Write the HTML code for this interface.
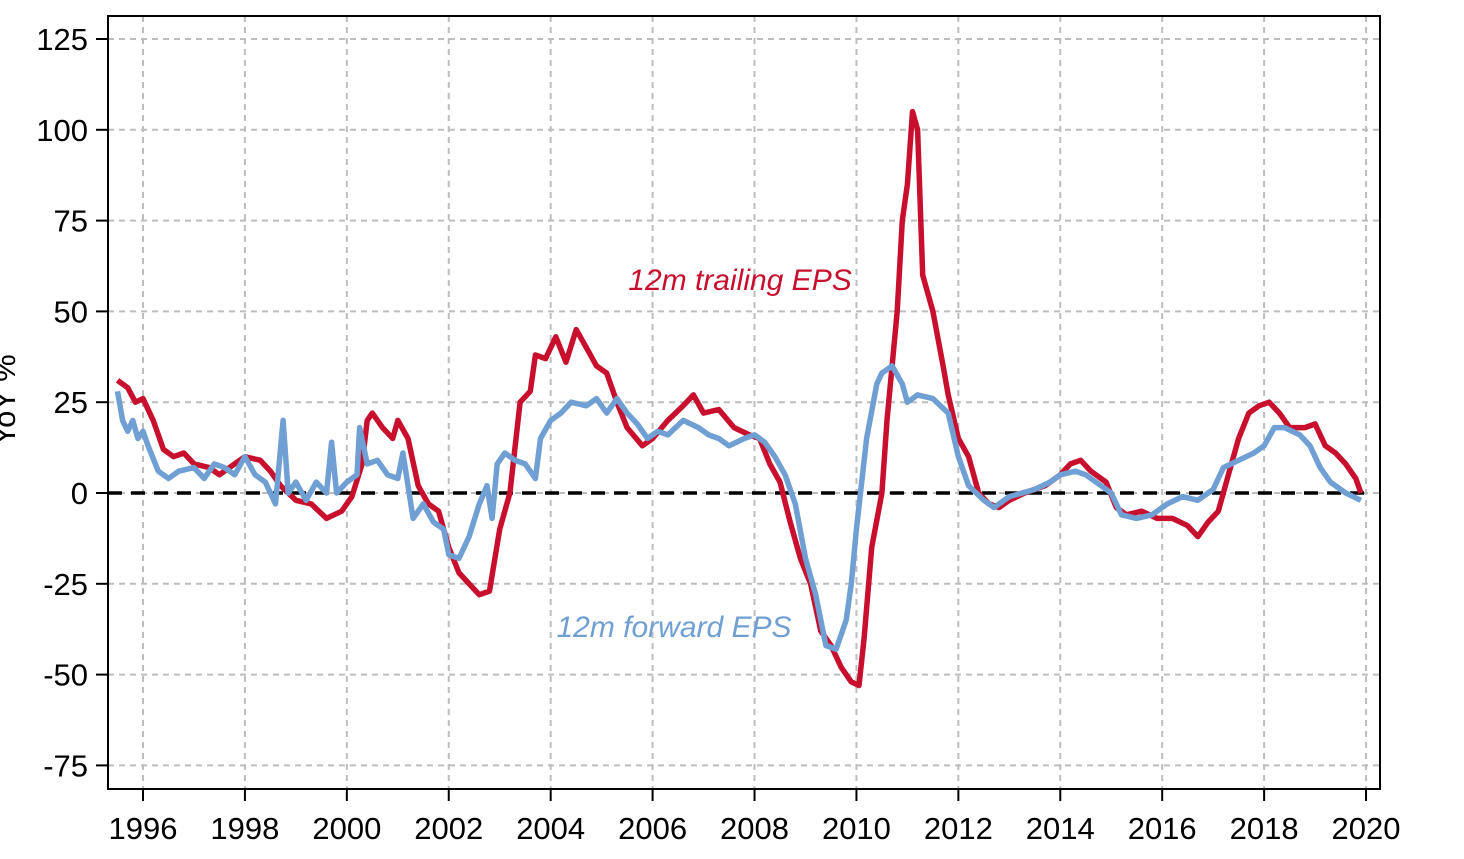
<!DOCTYPE html>
<html><head><meta charset="utf-8"><style>
html,body{margin:0;padding:0;background:#fff;}
svg{display:block;font-family:"Liberation Sans",sans-serif;}
</style></head><body>
<svg id="chart" width="1464" height="859" viewBox="0 0 1464 859" xmlns="http://www.w3.org/2000/svg">
<g id="grid"></g>
<g id="axes"></g>
<g id="series"></g>
<text transform="translate(15,400) rotate(-90)" text-anchor="middle" font-size="31" fill="#000">YoY %</text>
<text x="740" y="290" text-anchor="middle" font-size="30" font-style="italic" fill="#c8102e">12m trailing EPS</text>
<text x="674" y="637" text-anchor="middle" font-size="30" font-style="italic" fill="#6f9fd3">12m forward EPS</text>
</svg>
<script>
const yTicks=[125,100,75,50,25,0,-25,-50,-75];
const xTicks=[1996,1998,2000,2002,2004,2006,2008,2010,2012,2014,2016,2018,2020];
const trailT=[1995.5,1995.7,1995.85,1996.0,1996.2,1996.4,1996.6,1996.8,1997.0,1997.3,1997.5,1997.8,1998.0,1998.3,1998.5,1998.7,1999.0,1999.3,1999.6,1999.9,2000.1,2000.3,2000.4,2000.5,2000.7,2000.9,2001.0,2001.2,2001.4,2001.6,2001.8,2002.0,2002.2,2002.4,2002.6,2002.8,2003.0,2003.2,2003.4,2003.6,2003.7,2003.9,2004.1,2004.3,2004.5,2004.7,2004.9,2005.1,2005.3,2005.5,2005.8,2006.0,2006.3,2006.6,2006.8,2007.0,2007.3,2007.6,2007.9,2008.1,2008.3,2008.5,2008.7,2008.9,2009.1,2009.3,2009.5,2009.7,2009.9,2010.05,2010.15,2010.3,2010.5,2010.6,2010.8,2010.9,2011.0,2011.1,2011.2,2011.3,2011.5,2011.7,2011.8,2012.0,2012.2,2012.4,2012.6,2012.8,2013.0,2013.3,2013.7,2014.0,2014.2,2014.4,2014.6,2014.9,2015.1,2015.3,2015.6,2015.9,2016.2,2016.5,2016.7,2016.9,2017.1,2017.3,2017.5,2017.7,2017.9,2018.1,2018.3,2018.5,2018.8,2019.0,2019.2,2019.4,2019.6,2019.8,2019.9];
const trailV=[31,29,25,26,20,12,10,11,8,7,5,8,10,9,6,2,-2,-3,-7,-5,-1,8,20,22,18,15,20,15,2,-3,-5,-15,-22,-25,-28,-27,-10,0,25,28,38,37,43,36,45,40,35,33,25,18,13,15,20,24,27,22,23,18,16,15,8,3,-8,-18,-25,-38,-42,-48,-52,-53,-40,-15,0,20,50,75,85,105,100,60,50,35,27,15,10,0,-3,-4,-2,0,2,5,8,9,6,3,-4,-6,-5,-7,-7,-9,-12,-8,-5,5,15,22,24,25,22,18,18,19,13,11,8,4,0];
const fwdT=[1995.5,1995.6,1995.7,1995.8,1995.9,1996.0,1996.1,1996.3,1996.5,1996.7,1997.0,1997.2,1997.4,1997.6,1997.8,1998.0,1998.2,1998.4,1998.6,1998.75,1998.85,1999.0,1999.2,1999.4,1999.6,1999.7,1999.8,2000.0,2000.2,2000.25,2000.4,2000.6,2000.8,2001.0,2001.1,2001.2,2001.3,2001.5,2001.7,2001.9,2002.0,2002.2,2002.4,2002.6,2002.75,2002.85,2002.95,2003.1,2003.3,2003.5,2003.7,2003.8,2004.0,2004.2,2004.4,2004.7,2004.9,2005.1,2005.3,2005.5,2005.7,2005.9,2006.1,2006.3,2006.6,2006.9,2007.1,2007.3,2007.5,2007.8,2008.0,2008.2,2008.4,2008.6,2008.8,2009.0,2009.2,2009.4,2009.6,2009.8,2009.9,2010.0,2010.2,2010.4,2010.5,2010.7,2010.9,2011.0,2011.2,2011.5,2011.8,2012.0,2012.2,2012.5,2012.7,2013.0,2013.5,2013.8,2014.0,2014.3,2014.5,2014.8,2015.0,2015.2,2015.5,2015.8,2016.1,2016.4,2016.7,2017.0,2017.2,2017.5,2017.8,2018.0,2018.2,2018.4,2018.7,2018.9,2019.1,2019.3,2019.6,2019.9];
const fwdV=[28,20,17,20,15,17,13,6,4,6,7,4,8,7,5,10,5,3,-3,20,0,3,-2,3,0,14,0,3,5,18,8,9,5,4,11,2,-7,-3,-8,-10,-17,-18,-12,-3,2,-7,8,11,9,8,4,15,20,22,25,24,26,22,26,22,19,15,17,16,20,18,16,15,13,15,16,14,10,5,-3,-18,-28,-42,-43,-35,-25,-10,15,30,33,35,30,25,27,26,22,10,2,-2,-4,-1,1,3,5,6,5,2,0,-6,-7,-6,-3,-1,-2,1,7,9,11,13,18,18,16,13,7,3,0,-2];

const L=108,R=1380,T=16,B=789;
const x=t=>143+(t-1996)*50.96;
const y=v=>493-v*3.632;
const NS="http://www.w3.org/2000/svg";
function mk(tag,parent,attrs){const e=document.createElementNS(NS,tag);for(const k in attrs)e.setAttribute(k,attrs[k]);parent.appendChild(e);return e;}
const grid=document.getElementById('grid'),axes=document.getElementById('axes'),ser=document.getElementById('series');
yTicks.forEach(v=>{
  const g=mk('line',grid,{x1:L,x2:R,y1:y(v),y2:y(v),stroke:'#bdbdbd','stroke-width':2,'stroke-dasharray':'6,5'});
  
  
  const tk=mk('line',axes,{x1:96,x2:L,y1:y(v),y2:y(v),stroke:'#000','stroke-width':2});
  
  
  const tx=mk('text',axes,{x:88,y:y(v)+11,'text-anchor':'end','font-size':31,fill:'#000'});
  tx.textContent=v;
  
  
});
xTicks.forEach(t=>{
  const g=mk('line',grid,{x1:x(t),x2:x(t),y1:T,y2:B,stroke:'#bdbdbd','stroke-width':2,'stroke-dasharray':'6,5'});
  
  
  const tk=mk('line',axes,{x1:x(t),x2:x(t),y1:B,y2:B+12,stroke:'#000','stroke-width':2});
  
  
  const tx=mk('text',axes,{x:x(t),y:839,'text-anchor':'middle','font-size':31,fill:'#000'});
  tx.textContent=t;
  
  
});
const frame=mk('rect',axes,{x:L,y:T,width:R-L,height:B-T,fill:'none',stroke:'#000','stroke-width':2});


const zero=mk('line',ser,{x1:L,x2:R-14,y1:y(0),y2:y(0),stroke:'#000','stroke-width':3.5,'stroke-dasharray':'14,9'});


function path(ts,vs){return ts.map((t,i)=>(i?'L':'M')+x(t).toFixed(1)+','+y(vs[i]).toFixed(1)).join('');}
const pt=mk('path',ser,{d:path(trailT,trailV),fill:'none',stroke:'#c8102e','stroke-width':5.5,'stroke-linejoin':'round'});


const pf=mk('path',ser,{d:path(fwdT,fwdV),fill:'none',stroke:'#6f9fd3','stroke-width':5.5,'stroke-linejoin':'round'});


</script>
</body></html>
